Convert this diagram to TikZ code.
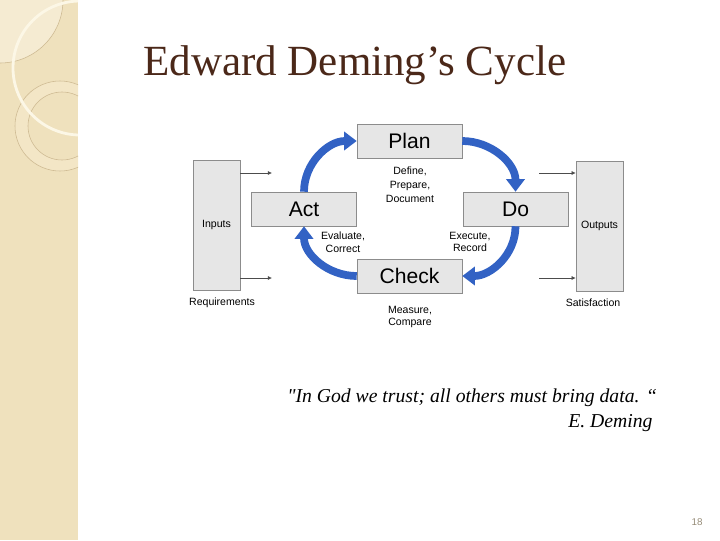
\documentclass[tikz,border=0pt]{standalone}
\usepackage{fontspec}
\setmainfont{Liberation Serif}
\setsansfont{Liberation Sans}
\newfontfamily\quotefont[Ligatures=TeXOff]{Liberation Serif}
\usetikzlibrary{arrows.meta}
\definecolor{stripbeige}{RGB}{239,225,189}
\definecolor{striplight}{RGB}{245,235,210}
\definecolor{stripwhite}{RGB}{252,247,230}
\definecolor{stripline}{RGB}{205,185,145}
\definecolor{ringfill}{RGB}{243,230,198}
\definecolor{titlebrown}{RGB}{75,40,25}
\definecolor{boxfill}{RGB}{230,230,230}
\definecolor{boxedge}{RGB}{140,140,140}
\definecolor{cycleblue}{RGB}{50,98,196}
\definecolor{pagegray}{RGB}{150,140,120}

\begin{document}
\begin{tikzpicture}[
    x=0.025cm, y=-0.025cm,
    stepbox/.style={draw=boxedge, fill=boxfill, minimum width=2.625cm, minimum height=0.85cm, inner sep=0pt, font=\sffamily\fontsize{15}{18}\selectfont},
    sidebox/.style={draw=boxedge, fill=boxfill, minimum width=1.175cm, minimum height=3.25cm, inner sep=0pt, font=\sffamily\fontsize{7.5}{9}\selectfont},
    smalltext/.style={font=\sffamily\fontsize{7.5}{9}\selectfont, align=center, inner sep=0pt},
    cyclearrow/.style={draw=cycleblue, line width=5.5pt, -{Triangle[length=9pt,width=13pt]}},
    feedarrow/.style={draw=black!70, line width=0.5pt, -{Latex[length=3pt,width=3pt]}},
]
\useasboundingbox (0,0) rectangle (720,540);

\fill[stripbeige] (0,0) rectangle (78,540);
\begin{scope}
\clip (0,0) rectangle (78,540);
\fill[striplight] (0,0) circle (63);
\draw[stripline, line width=0.4pt] (0,0) circle (63);
\fill[ringfill, even odd rule] (60,126) circle (45) (62,126) circle (34);
\draw[stripline, line width=0.4pt] (60,126) circle (45);
\draw[stripline, line width=0.4pt] (62,126) circle (34);
\draw[stripwhite, line width=2pt] (80,68) circle (67);
\end{scope}

\node[anchor=base west, inner sep=0pt, text=titlebrown, font=\fontsize{30.6}{36}\selectfont] (title) at (143,75) {Edward Deming’s Cycle};

\node[sidebox] (inputs) at (216.5,225) {Inputs};
\node[sidebox] (outputs) at (599.5,226) {Outputs};
\node[smalltext] (requirements) at (222,303) {Requirements};
\node[smalltext] (satisfaction) at (593,303) {Satisfaction};

\node[stepbox] (plan) at (409.5,141) {Plan};
\node[stepbox] (act) at (304,209) {Act};
\node[stepbox] (do) at (515.5,209) {Do};
\node[stepbox] (check) at (409.5,276) {Check};

\node[smalltext, font=\sffamily\fontsize{7.5}{10}\selectfont] (define) at (410,185) {Define,\\Prepare,\\Document};
\node[smalltext] (evaluate) at (343,242) {Evaluate,\\Correct};
\node[smalltext] (execute) at (470,242) {Execute,\\Record};
\node[smalltext] (measure) at (410,317) {Measure,\\Compare};

\coordinate (inhi) at (272,173);
\coordinate (inlo) at (272,278);
\coordinate (outhi) at (539,173);
\coordinate (outlo) at (539,278);
\draw[feedarrow] (inputs.east |- inhi) -- (inhi);
\draw[feedarrow] (inputs.east |- inlo) -- (inlo);
\draw[feedarrow] (outhi) -- (outputs.west |- outhi);
\draw[feedarrow] (outlo) -- (outputs.west |- outlo);

\draw[cyclearrow] (plan.east) to[out=0, in=90] (do.north);
\draw[cyclearrow] (do.south) to[out=-90, in=0] (check.east);
\draw[cyclearrow] (check.west) to[out=180, in=-90] (act.south);
\draw[cyclearrow] (act.north) to[out=90, in=180] (plan.west);

\node[anchor=base west, inner sep=0pt, font=\quotefont\itshape\fontsize{14}{17}\selectfont] (quote) at (287,402) {"In God we trust; all others must bring data. “};
\node[anchor=base west, inner sep=0pt, font=\quotefont\itshape\fontsize{14}{17}\selectfont] (author) at (568,427) {E. Deming};

\node[text=pagegray, font=\sffamily\fontsize{7}{8}\selectfont] (pagenum) at (697,522) {18};

\end{tikzpicture}
\end{document}
